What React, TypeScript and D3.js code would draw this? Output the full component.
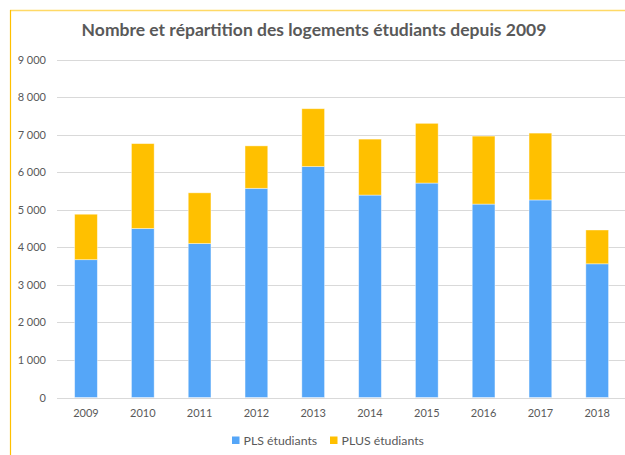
import React from "react";
import * as d3 from "d3";

const years = ["2009", "2010", "2011", "2012", "2013", "2014", "2015", "2016", "2017", "2018"];
const plsValues = [3670, 4500, 4100, 5570, 6150, 5390, 5710, 5150, 5260, 3560];
const totalValues = [4880, 6760, 5450, 6700, 7690, 6880, 7300, 6960, 7040, 4460];
const plusValues = totalValues.map((t, i) => t - plsValues[i]);
const yTicks = [0, 1000, 2000, 3000, 4000, 5000, 6000, 7000, 8000, 9000];
const seriesNames = ["PLS étudiants", "PLUS étudiants"];
const seriesColors = ["#55A6F8", "#FFC000"];
const title = "Nombre et répartition des logements étudiants depuis 2009";

const W = 625;
const H = 455;

export default function App() {
  const x = d3.scaleBand().domain(years).range([57.6, 625.6]).paddingInner(0.6).paddingOuter(0.3);
  const y = d3.scaleLinear().domain([0, 9000]).range([397.5, 59.5]);
  const fmt = (v: number) => d3.format(",")(v).replace(/,/g, " ");
  const stack = d3.stack<any>().keys(["pls", "plus"]);
  const rows = years.map((yr, i) => ({ year: yr, pls: plsValues[i], plus: plusValues[i] }));
  const layers = stack(rows);
  const font = "Lato, 'Open Sans', sans-serif";
  const legendX = [232, 330];
  return (
    <svg width={W} height={H} style={{ position: "fixed", left: 0, top: 0, background: "#fff" }}>
      <rect x={0} y={0} width={W} height={H} fill="#fff" />
      <line x1={10} x2={W} y1={10.5} y2={10.5} stroke="#FFD966" strokeWidth={1.5} />
      <line x1={10.5} x2={10.5} y1={10} y2={H} stroke="#FFC000" strokeWidth={1.2} />
      <text x={314} y={36} textAnchor="middle" fontFamily={font} fontWeight="bold" fontSize={17.5} fill="#595959">
        {title}
      </text>
      {yTicks.map((t) => (
        <g key={t}>
          <line x1={57} x2={W} y1={Math.round(y(t)) + 0.5} y2={Math.round(y(t)) + 0.5} stroke="#D9D9D9" strokeWidth={1} />
          <text x={46} y={y(t) + 4} textAnchor="end" fontFamily={font} fontSize={11} fill="#595959">
            {fmt(t)}
          </text>
        </g>
      ))}
      {layers.map((layer, li) => (
        <g key={li}>
          {layer.map((d, i) => (
            <rect
              key={i}
              x={x(years[i])!}
              y={y(d[1])}
              width={x.bandwidth()}
              height={y(d[0]) - y(d[1])}
              fill={seriesColors[li]}
              stroke="#ffffff"
              strokeOpacity={0.5}
              strokeWidth={0.8}
            />
          ))}
        </g>
      ))}
      {years.map((yr) => (
        <text key={yr} x={x(yr)! + x.bandwidth() / 2} y={417} textAnchor="middle" fontFamily={font} fontSize={11} fill="#595959">
          {yr}
        </text>
      ))}
      {seriesNames.map((n, i) => {
        const lx = legendX[i];
        return (
          <g key={n}>
            <rect x={lx} y={436.5} width={7.5} height={7.5} fill={seriesColors[i]} />
            <text x={lx + 11.5} y={444.5} fontFamily={font} fontSize={12.3} fill="#595959">
              {n}
            </text>
          </g>
        );
      })}
    </svg>
  );
}
